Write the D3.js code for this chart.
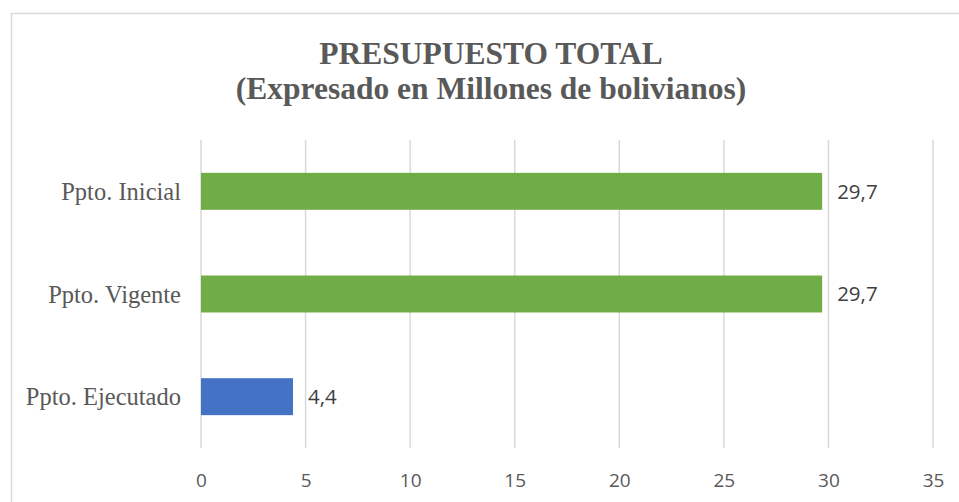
<!DOCTYPE html>
<html>
<head>
<meta charset="utf-8">
<script src="https://cdn.jsdelivr.net/npm/d3@7"></script>
<style>
  html, body { margin: 0; padding: 0; background: #fff; }
  svg { display: block; }
</style>
</head>
<body>
<svg id="chart" width="959" height="502"></svg>
<script>
  const categories = ['Ppto. Inicial', 'Ppto. Vigente', 'Ppto. Ejecutado'];
  const values = [29.7, 29.7, 4.4];
  const barColors = ['#70ad47', '#70ad47', '#4472c4'];
  const tickValues = [0, 5, 10, 15, 20, 25, 30, 35];
  const titleLines = ['PRESUPUESTO TOTAL', '(Expresado en Millones de bolivianos)'];

  const svg = d3.select('#chart');

  // chart frame, cut off at right and bottom like the source
  svg.append('rect')
     .attr('x', 11.5)
     .attr('y', 13.5)
     .attr('width', 980)
     .attr('height', 520)
     .attr('fill', '#fff')
     .attr('stroke', '#d9d9d9')
     .attr('stroke-width', 1.5);

  const plot = { left: 201, right: 933, top: 140, bottom: 448 };

  const x = d3.scaleLinear().domain([0, 35]).range([plot.left, plot.right]);
  const y = d3.scaleBand().domain(categories).range([plot.top, plot.bottom]).paddingInner(0.64).paddingOuter(0.32);

  // vertical gridlines
  svg.append('g')
     .selectAll('line')
     .data(tickValues)
     .enter().append('line')
     .attr('x1', d => x(d))
     .attr('x2', d => x(d))
     .attr('y1', plot.top)
     .attr('y2', plot.bottom)
     .attr('stroke', '#d9d9d9')
     .attr('stroke-width', 1.5);

  // x axis labels
  const xAxis = d3.axisBottom(x).tickValues(tickValues).tickSize(0).tickPadding(0).tickFormat(d3.format('d'));
  const gx = svg.append('g')
                .attr('transform', `translate(0,${plot.bottom})`)
                .call(xAxis);
  gx.select('.domain').remove();
  gx.selectAll('text')
    .attr('dy', null)
    .attr('y', 39)
    .style('font-family', '"Open Sans", sans-serif')
    .style('font-size', '19px')
    .attr('fill', '#595959');

  // category labels
  const yAxis = d3.axisLeft(y).tickSize(0).tickPadding(20);
  const gy = svg.append('g')
                .attr('transform', `translate(${plot.left},0)`)
                .call(yAxis);
  gy.select('.domain').remove();
  gy.selectAll('text')
    .attr('dy', '0.36em')
    .style('font-family', '"Liberation Serif", "Times New Roman", serif')
    .style('font-size', '24.5px')
    .attr('fill', '#595959');

  // bars
  svg.append('g')
     .selectAll('rect')
     .data(values)
     .enter().append('rect')
     .attr('x', x(0))
     .attr('y', (d, i) => y(categories[i]))
     .attr('width', d => x(d) - x(0))
     .attr('height', y.bandwidth())
     .attr('fill', (d, i) => barColors[i]);

  // value labels
  svg.append('g')
     .selectAll('text')
     .data(values)
     .enter().append('text')
     .attr('x', d => x(d) + 15)
     .attr('y', (d, i) => y(categories[i]) + y.bandwidth() / 2)
     .attr('dy', '0.36em')
     .style('font-family', '"Open Sans", sans-serif')
     .style('font-size', '20.5px')
     .attr('fill', '#404040')
     .text(d => d3.format('.1f')(d).replace('.', ','));

  // title
  svg.append('text')
     .attr('x', 491)
     .attr('text-anchor', 'middle')
     .style('font-family', '"Liberation Serif", "Times New Roman", serif')
     .style('font-size', '31.5px')
     .style('font-weight', 'bold')
     .attr('fill', '#595959')
     .selectAll('tspan')
     .data(titleLines)
     .enter().append('tspan')
     .attr('x', 491)
     .attr('y', (d, i) => 63.5 + i * 35.5)
     .text(d => d);
</script>
</body>
</html>
